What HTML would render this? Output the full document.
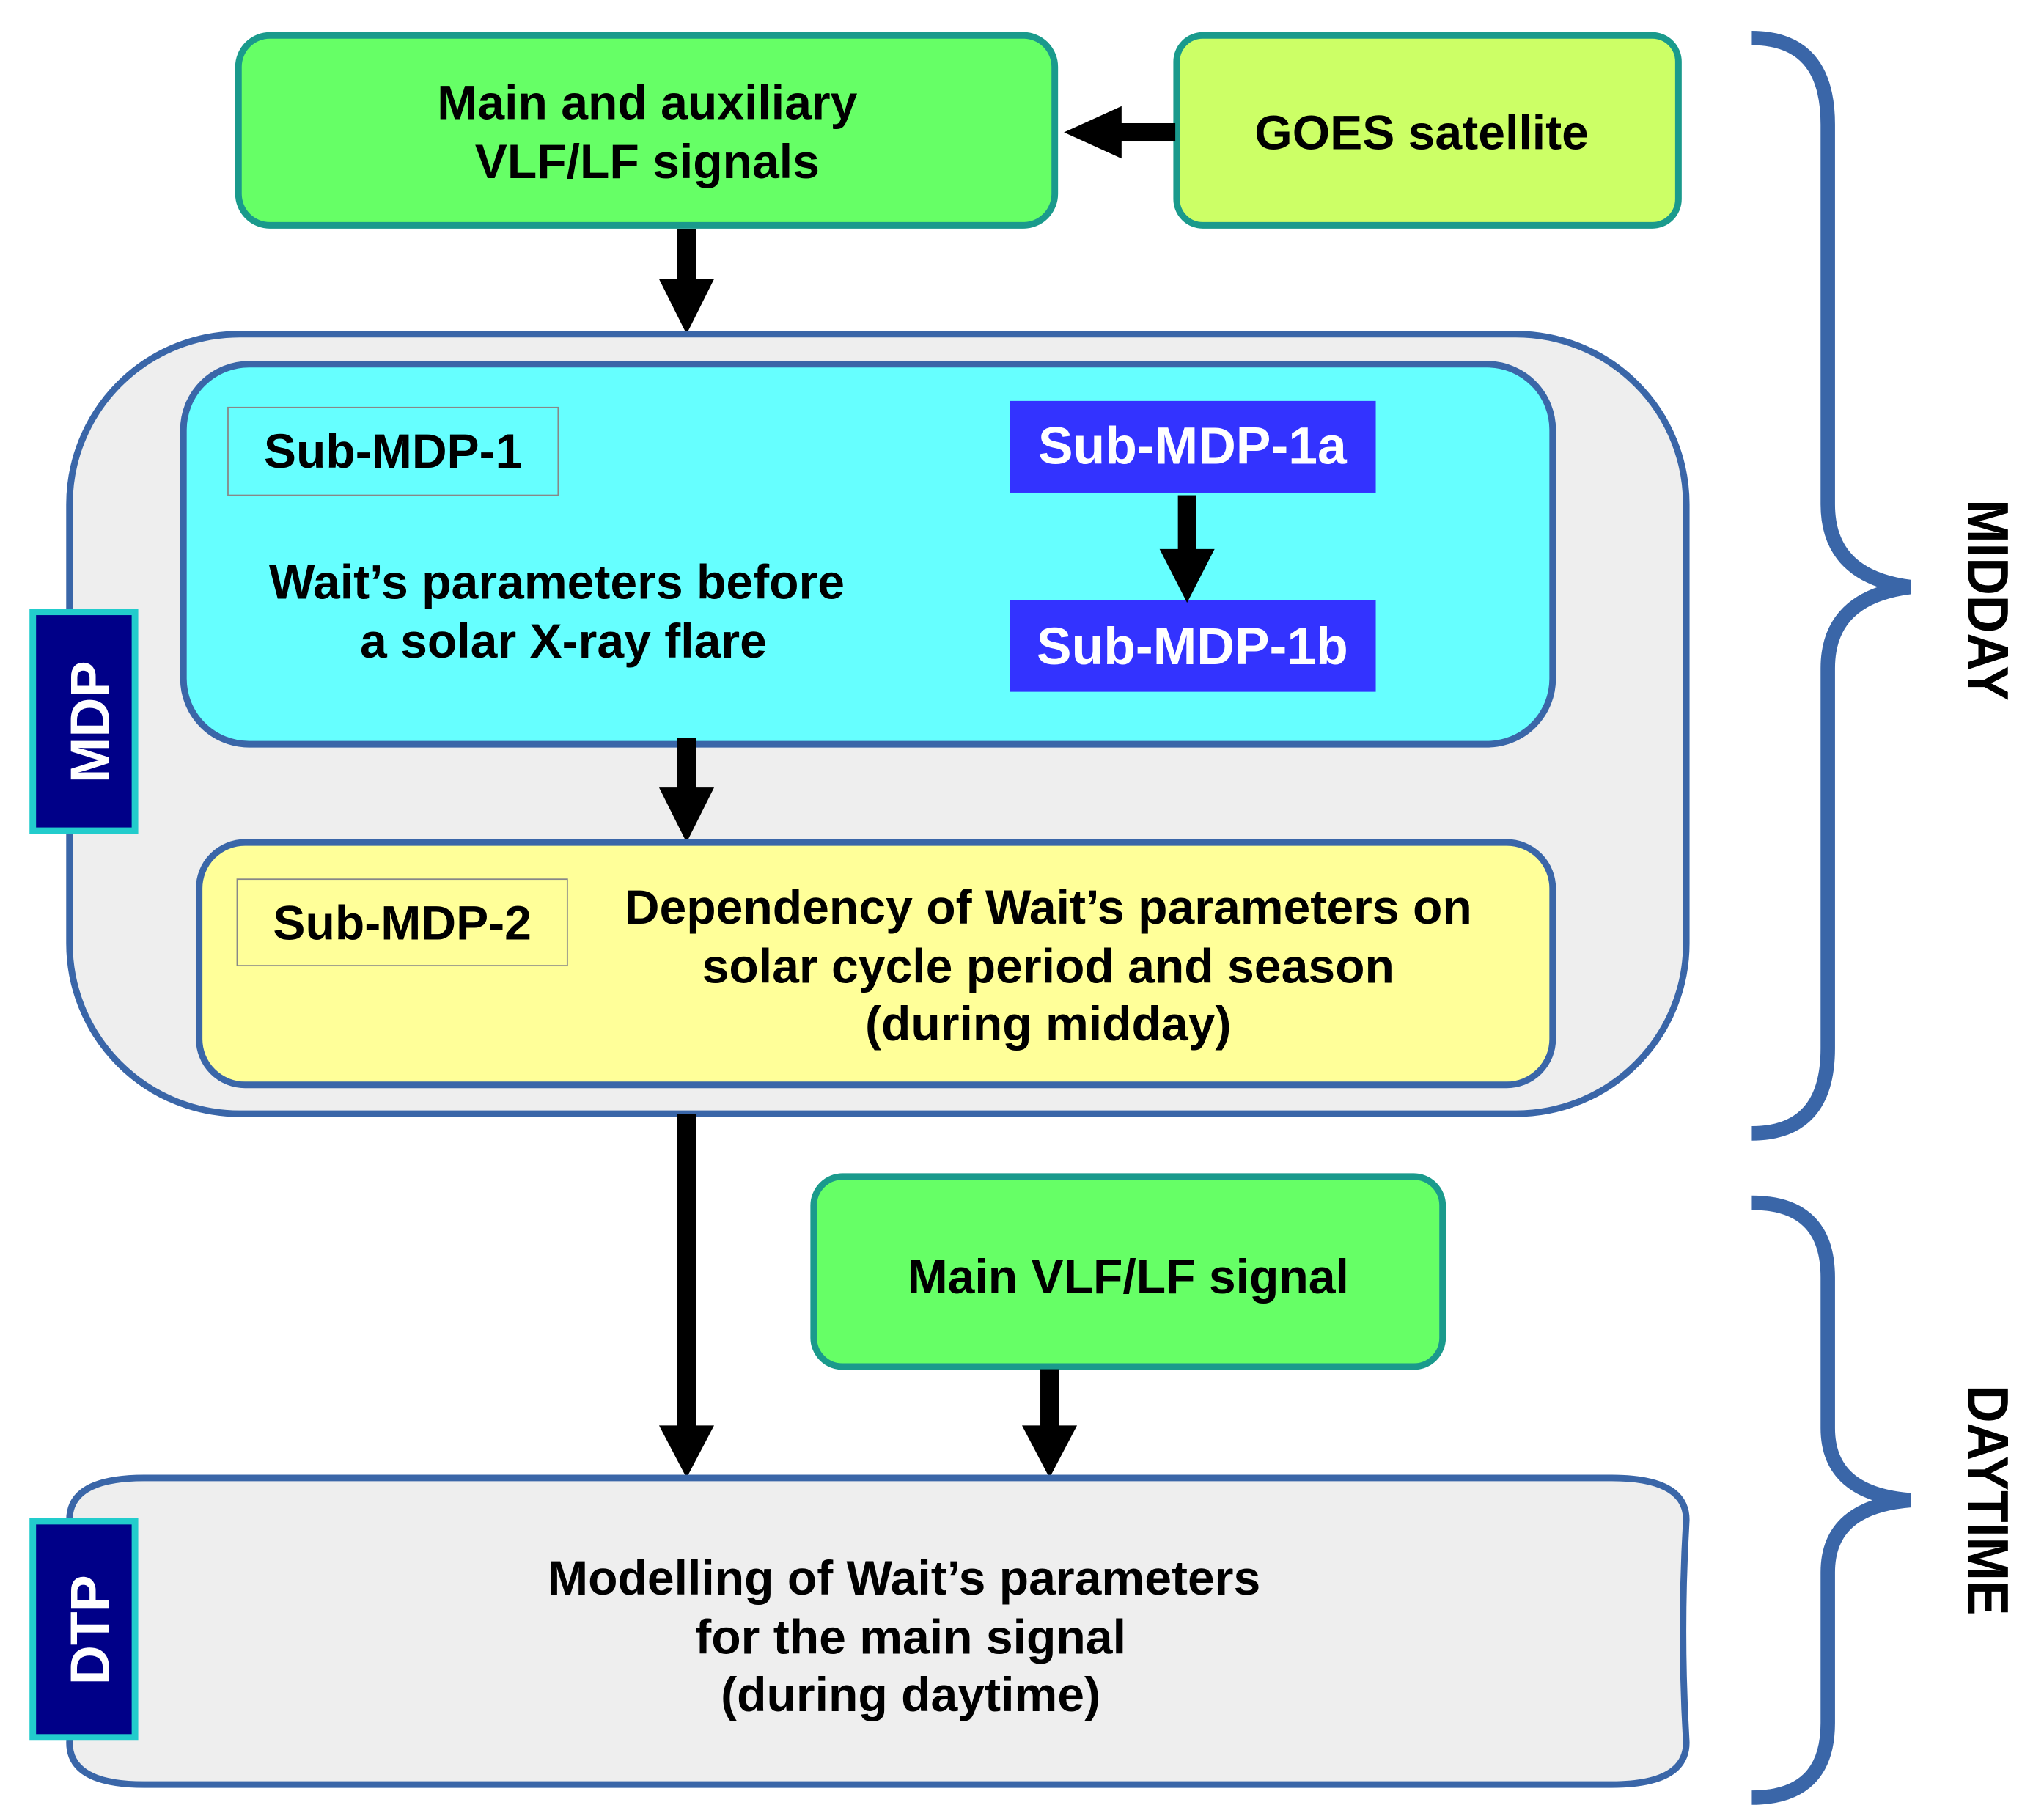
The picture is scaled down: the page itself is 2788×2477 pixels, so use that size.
<!DOCTYPE html>
<html><head><meta charset="utf-8"><style>
html,body{margin:0;padding:0;background:#fff;}
svg{display:block;}
text{font-family:"Liberation Sans",sans-serif;font-weight:bold;}
</style></head><body>
<svg width="2788" height="2477" viewBox="0 0 1560 1386" xmlns="http://www.w3.org/2000/svg">
<rect width="1560" height="1386" fill="#fff"/>
<rect x="182" y="27" width="623" height="145" rx="24" fill="#66ff66" stroke="#1a9a8c" stroke-width="5"/>
<text x="494" y="91" font-size="37" text-anchor="middle">Main and auxiliary</text>
<text x="494" y="136" font-size="37" text-anchor="middle">VLF/LF signals</text>
<rect x="898" y="27" width="383" height="145" rx="20" fill="#ccff66" stroke="#1a9a8c" stroke-width="5"/>
<text x="1085" y="114" font-size="37" text-anchor="middle">GOES satellite</text>
<rect x="850" y="94" width="47" height="14" fill="#000"/>
<polygon points="812,101 856,81 856,121" fill="#000"/>
<rect x="517" y="175" width="14" height="42" fill="#000"/>
<polygon points="503,213 545,213 524,255" fill="#000"/>
<rect x="53" y="255" width="1234" height="595" rx="130" fill="#eeeeee" stroke="#3a66a8" stroke-width="5"/>
<rect x="140" y="278" width="1045" height="290" rx="50" fill="#66ffff" stroke="#3a66a8" stroke-width="5"/>
<rect x="174" y="311" width="252" height="67" fill="none" stroke="#888" stroke-width="1"/>
<text x="300" y="357" font-size="37" text-anchor="middle">Sub-MDP-1</text>
<text x="425" y="457" font-size="37" text-anchor="middle">Wait’s parameters before</text>
<text x="430" y="502" font-size="37" text-anchor="middle">a solar X-ray flare</text>
<rect x="771" y="306" width="279" height="70" fill="#3333ff"/>
<text x="910" y="354" font-size="40" fill="#fff" text-anchor="middle">Sub-MDP-1a</text>
<rect x="771" y="458" width="279" height="70" fill="#3333ff"/>
<text x="910" y="507" font-size="40" fill="#fff" text-anchor="middle">Sub-MDP-1b</text>
<rect x="899" y="378" width="14" height="45" fill="#000"/>
<polygon points="885,419 927,419 906,460" fill="#000"/>
<rect x="517" y="563" width="14" height="42" fill="#000"/>
<polygon points="503,601 545,601 524,643" fill="#000"/>
<rect x="152" y="643" width="1033" height="185" rx="35" fill="#ffff99" stroke="#3a66a8" stroke-width="5"/>
<rect x="181" y="671" width="252" height="66" fill="none" stroke="#888" stroke-width="1"/>
<text x="307" y="717" font-size="37" text-anchor="middle">Sub-MDP-2</text>
<text x="800" y="705" font-size="37" text-anchor="middle">Dependency of Wait’s parameters on</text>
<text x="800" y="750" font-size="37" text-anchor="middle">solar cycle period and season</text>
<text x="800" y="794" font-size="37" text-anchor="middle">(during midday)</text>
<rect x="25" y="467" width="78" height="167" fill="#000088" stroke="#22cccc" stroke-width="5"/>
<text transform="translate(83,551) rotate(-90)" font-size="42" fill="#fff" text-anchor="middle">MDP</text>
<rect x="517" y="850" width="14" height="242" fill="#000"/>
<polygon points="503,1088 545,1088 524,1128" fill="#000"/>
<rect x="621" y="898" width="480" height="145" rx="22" fill="#66ff66" stroke="#1a9a8c" stroke-width="5"/>
<text x="861" y="987" font-size="37" text-anchor="middle">Main VLF/LF signal</text>
<rect x="794" y="1045" width="14" height="47" fill="#000"/>
<polygon points="780,1088 822,1088 801,1128" fill="#000"/>
<path d="M110,1128 H1230 Q1287,1128 1287,1160 Q1282,1245 1287,1330 Q1287,1362 1230,1362 H110 Q53,1362 53,1330 Q58,1245 53,1160 Q53,1128 110,1128 Z" fill="#eeeeee" stroke="#3a66a8" stroke-width="5"/>
<text x="690" y="1217" font-size="37" text-anchor="middle">Modelling of Wait’s parameters</text>
<text x="695" y="1262" font-size="37" text-anchor="middle">for the main signal</text>
<text x="695" y="1306" font-size="37" text-anchor="middle">(during daytime)</text>
<rect x="25" y="1161" width="78" height="165" fill="#000088" stroke="#22cccc" stroke-width="5"/>
<text transform="translate(83,1244) rotate(-90)" font-size="42" fill="#fff" text-anchor="middle">DTP</text>
<path d="M1337,29 Q1395,29 1395,95 V385 Q1395,440 1458,448 Q1395,456 1395,510 V800 Q1395,865 1337,865" fill="none" stroke="#3a66a8" stroke-width="11"/>
<path d="M1337,918 Q1395,918 1395,975 V1090 Q1395,1140 1458,1145 Q1395,1150 1395,1200 V1315 Q1395,1372 1337,1372" fill="none" stroke="#3a66a8" stroke-width="11"/>
<text transform="translate(1502,458) rotate(90) scale(0.95,1.05)" font-size="42" text-anchor="middle">MIDDAY</text>
<text transform="translate(1502,1145) rotate(90) scale(0.95,1.05)" font-size="42" text-anchor="middle">DAYTIME</text>
</svg>
</body></html>
